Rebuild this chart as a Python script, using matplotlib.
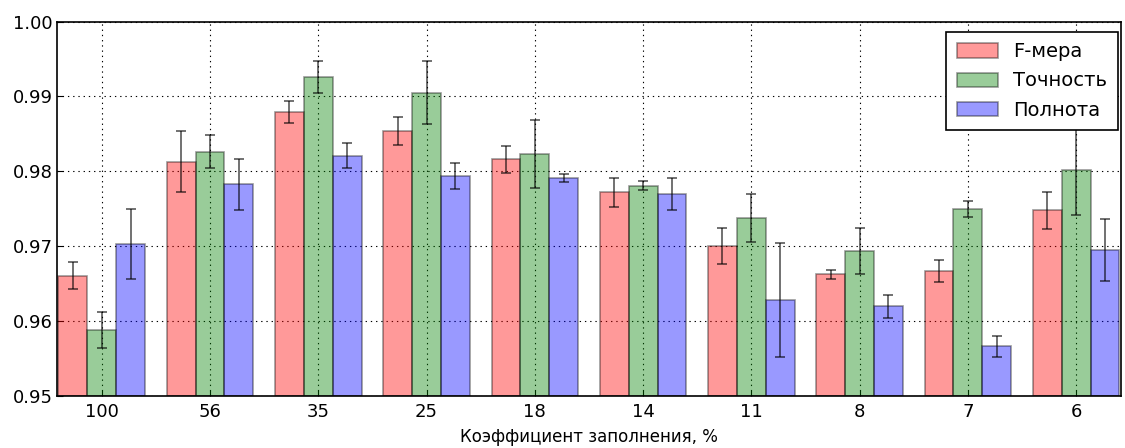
import numpy as np
import matplotlib
matplotlib.use("Agg")
import matplotlib.pyplot as plt

categories = ["100", "56", "35", "25", "18", "14", "11", "8", "7", "6"]
f_measure = [0.9661, 0.9813, 0.9879, 0.9854, 0.9816, 0.9772, 0.9700, 0.9663, 0.9667, 0.9748]
f_err     = [0.0018, 0.0041, 0.0015, 0.0019, 0.0018, 0.0019, 0.0024, 0.0006, 0.0015, 0.0025]
precision = [0.9589, 0.9826, 0.9926, 0.9905, 0.9823, 0.9781, 0.9738, 0.9694, 0.9750, 0.9802]
p_err     = [0.0024, 0.0022, 0.0021, 0.0042, 0.0045, 0.0006, 0.0032, 0.0031, 0.0011, 0.0060]
recall    = [0.9703, 0.9783, 0.9821, 0.9794, 0.9791, 0.9770, 0.9628, 0.9620, 0.9567, 0.9695]
r_err     = [0.0047, 0.0034, 0.0017, 0.0017, 0.0005, 0.0021, 0.0076, 0.0015, 0.0014, 0.0041]
series_names = ["F-мера", "Точность", "Полнота"]

plt.rcParams['font.family'] = ['DejaVu Sans']
fig = plt.figure(figsize=(11.25, 4.48), dpi=100, facecolor='white')
ax = fig.add_axes([0.051, 0.115, 0.945, 0.837])

x = np.arange(len(categories))
w = 0.8 / 3
err_kw = dict(ecolor=(0, 0, 0, 0.6), elinewidth=1.3, capsize=3.5, capthick=1.3)
series = [(f_measure, f_err, 'r'), (precision, p_err, 'g'), (recall, r_err, 'b')]
for i, (vals, errs, c) in enumerate(series):
    ax.bar(x + (i - 1) * w, np.array(vals) - 0.95, w, bottom=0.95, yerr=errs,
           color=c, alpha=0.4, edgecolor='black', linewidth=1.2,
           error_kw=err_kw, label=series_names[i], zorder=2)

ax.set_ylim(0.95, 1.00)
ax.set_xlim(-0.41, 9.41)
ax.set_yticks([0.95, 0.96, 0.97, 0.98, 0.99, 1.00])
ax.set_yticklabels(["0.95", "0.96", "0.97", "0.98", "0.99", "1.00"])
ax.set_xticks(x)
ax.set_xticklabels(categories)
ax.tick_params(direction='in', labelsize=13, length=4, color='black')
ax.tick_params(axis='x', pad=5)
ax.grid(True, linestyle=(0, (1.2, 3.5)), color=(0, 0, 0, 0.7), linewidth=0.8, zorder=0)
ax.set_axisbelow(True)
for s in ax.spines.values():
    s.set_linewidth(1.2)
ax.set_xlabel("Коэффициент заполнения, %", fontsize=12, labelpad=5)

leg = ax.legend(loc='upper right', fontsize=14, fancybox=False, framealpha=1,
                edgecolor='black', borderpad=0.55, handlelength=2.1,
                handleheight=0.75, labelspacing=0.52, handletextpad=0.8,
                borderaxespad=0, bbox_to_anchor=(0.9977, 0.973))
leg.get_frame().set_linewidth(1.2)

fig.savefig("out.png", dpi=100, facecolor='white')
